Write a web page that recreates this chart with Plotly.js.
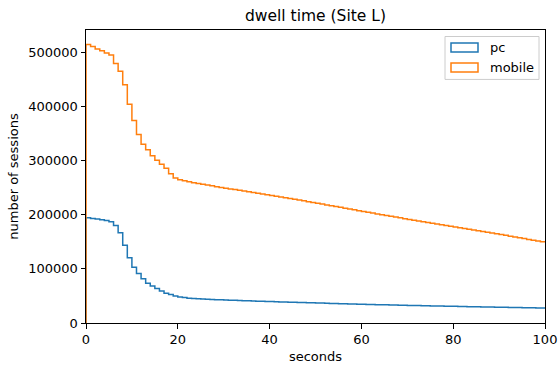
<!DOCTYPE html>
<html>
<head>
<meta charset="utf-8">
<script src="https://cdn.plot.ly/plotly-3.0.1.min.js"></script>
<style>html,body{margin:0;padding:0;background:#fff;}#chart{width:558px;height:365px;}</style>
</head>
<body>
<div id="chart"></div>
<script>
// histogram bins: 1-second bins from 0 to 100
const binStart = 0;
const binWidth = 1;

const seriesNames = ["pc", "mobile"];

const pcCounts = [
  194300, 193100, 191900, 190700, 189400, 187000, 180200, 166700, 143500, 120500,
  102900, 91200, 81500, 73200, 68300, 63500, 59200, 54900, 52400, 50000,
  48200, 47000, 45700, 45100, 44600, 44200, 43800, 43400, 43000, 42700,
  42400, 42100, 41800, 41500, 41200, 40900, 40600, 40300, 40000, 39800,
  39500, 39200, 39000, 38700, 38500, 38200, 38000, 37700, 37500, 37200,
  37000, 36700, 36500, 36200, 36000, 35700, 35500, 35200, 35000, 34700,
  34500, 34300, 34100, 33900, 33700, 33500, 33300, 33100, 32900, 32700,
  32500, 32300, 32100, 31900, 31700, 31500, 31400, 31200, 31000, 30800,
  30700, 30500, 30300, 30200, 30000, 29800, 29700, 29500, 29400, 29200,
  29100, 28900, 28800, 28600, 28500, 28300, 28200, 28000, 27900, 27800
];

const mobileCounts = [
  514000, 510500, 506000, 502500, 498700, 495000, 479000, 465000, 440000, 404000,
  374000, 348000, 330000, 320000, 309000, 300700, 293000, 285800, 275500, 267500,
  264400, 262500, 260800, 259100, 257500, 256000, 254600, 253200, 251800, 250400,
  249000, 247600, 246300, 244900, 243600, 242200, 240900, 239500, 238200, 236800,
  235500, 234100, 232700, 231300, 229800, 228400, 227000, 225500, 224000, 222600,
  221100, 219600, 218100, 216600, 215000, 213500, 212000, 210400, 208900, 207400,
  205900, 204400, 202900, 201400, 200000, 198500, 197100, 195600, 194200, 192700,
  191300, 189900, 188500, 187100, 185700, 184300, 183000, 181600, 180200, 178800,
  177400, 176000, 174600, 173200, 171800, 170400, 169000, 167600, 166200, 164800,
  163300, 161800, 160300, 158800, 157300, 155800, 154300, 152800, 151400, 150000
];

const xTicks = [0, 20, 40, 60, 80, 100];
const yTicks = [0, 100000, 200000, 300000, 400000, 500000];

const colors = ["#1f77b4", "#ff7f0e"];

function stepOutline(counts) {
  const xs = [binStart], ys = [0];
  for (let i = 0; i < counts.length; i++) {
    xs.push(binStart + i * binWidth);
    ys.push(counts[i]);
  }
  const end = binStart + counts.length * binWidth;
  xs.push(end); ys.push(counts[counts.length - 1]);
  return {x: xs, y: ys};
}

const allSeries = [pcCounts, mobileCounts];
const traces = allSeries.map((c, k) => {
  const o = stepOutline(c);
  return {
    x: o.x, y: o.y, type: "scatter", mode: "lines",
    line: {shape: "hv", color: colors[k], width: 1.5},
    name: seriesNames[k], showlegend: false, hoverinfo: "skip"
  };
});

const font = {family: "DejaVu Sans", size: 13, color: "#000"};

// legend drawn manually to mimic rectangular patches
const W = 558, H = 365, L = 86, R = 13, T = 29.5, B = 42;
const pw = W - L - R, ph = H - T - B;
const px = v => (v - L) / pw;
const py = v => (H - B - v) / ph;

const shapes = [
  {type: "rect", xref: "paper", yref: "paper", x0: px(445), x1: px(539), y0: py(79), y1: py(36),
   line: {color: "#cccccc", width: 1}, fillcolor: "rgba(255,255,255,0.8)", layer: "above"},
  {type: "rect", xref: "paper", yref: "paper", x0: px(451), x1: px(478), y0: py(51.5), y1: py(42.5),
   line: {color: colors[0], width: 1.5}, fillcolor: "rgba(0,0,0,0)", layer: "above"},
  {type: "rect", xref: "paper", yref: "paper", x0: px(451), x1: px(478), y0: py(71.5), y1: py(62.5),
   line: {color: colors[1], width: 1.5}, fillcolor: "rgba(0,0,0,0)", layer: "above"}
];
const annotations = [
  {xref: "paper", yref: "paper", x: px(488), y: py(47), xanchor: "left", yanchor: "middle",
   text: seriesNames[0], showarrow: false, font: font},
  {xref: "paper", yref: "paper", x: px(488), y: py(67), xanchor: "left", yanchor: "middle",
   text: seriesNames[1], showarrow: false, font: font}
];

const layout = {
  width: W, height: H,
  margin: {l: L, r: R, t: T, b: B, pad: 0},
  paper_bgcolor: "#fff", plot_bgcolor: "#fff",
  font: font,
  title: {text: "dwell time (Site L)", font: {family: "DejaVu Sans", size: 15.5, color: "#000"},
          x: 0.5, xref: "paper", xanchor: "center", y: 1 - 16 / H, yref: "container", yanchor: "middle"},
  xaxis: {
    range: [0, 100], tickvals: xTicks, ticktext: xTicks.map(String),
    showgrid: false, zeroline: false, showline: true, linecolor: "#000", linewidth: 1, mirror: true,
    ticks: "outside", ticklen: 4.5, tickwidth: 1, tickcolor: "#000",
    tickfont: font,
    title: {text: "seconds", font: font, standoff: 5}
  },
  yaxis: {
    range: [0, 541000], tickvals: yTicks, ticktext: yTicks.map(String),
    showgrid: false, zeroline: false, showline: true, linecolor: "#000", linewidth: 1, mirror: true,
    ticks: "outside", ticklen: 4.5, tickwidth: 1, tickcolor: "#000",
    tickfont: font,
    title: {text: "number of sessions", font: font, standoff: 6}
  },
  shapes: shapes,
  annotations: annotations,
  showlegend: false
};

Plotly.newPlot("chart", traces, layout, {displayModeBar: false, staticPlot: true});
</script>
</body>
</html>
